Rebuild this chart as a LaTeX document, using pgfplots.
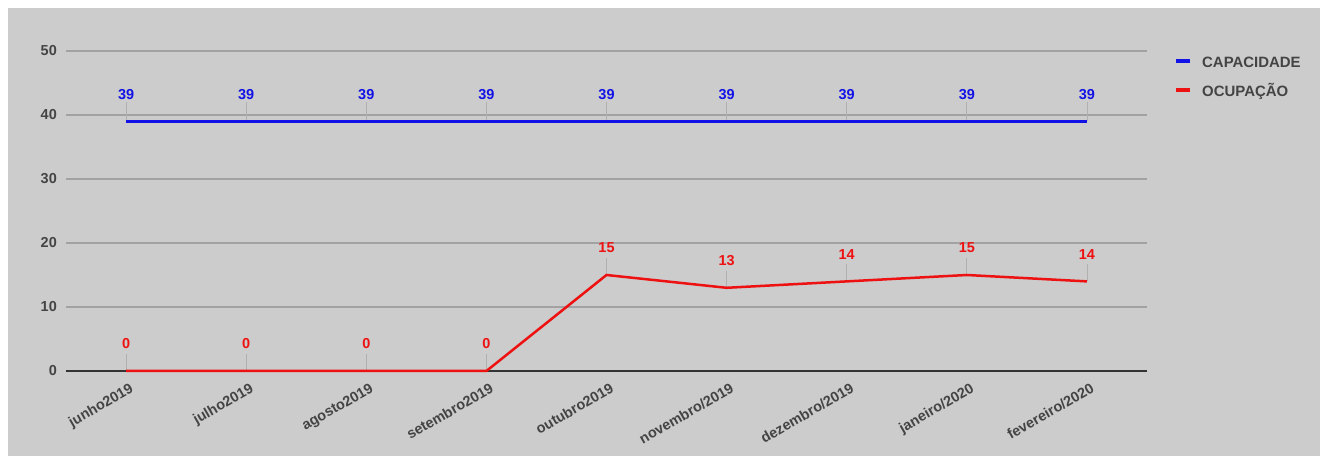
\documentclass[border=0pt]{standalone}
\usepackage{pgfplots}
\pgfplotsset{compat=1.18}
\usepackage{fontspec}
\setmainfont{Liberation Sans}
\definecolor{bgc}{HTML}{CCCCCC}
\definecolor{gridc}{HTML}{A2A2A2}
\definecolor{txtc}{HTML}{444444}
\definecolor{zeroc}{HTML}{333333}
\definecolor{leadc}{HTML}{B0B0B0}
\definecolor{capblue}{HTML}{1212E6}
\definecolor{ocred}{HTML}{EE1111}
\begin{document}
\begin{tikzpicture}[x=1bp,y=1bp]
\path[use as bounding box, fill=white] (0,0) rectangle (1320,456);
\fill[bgc] (8,0) rectangle (1320,448);
\begin{axis}[
  at={(66bp,85bp)}, anchor=south west,
  scale only axis, width=1081bp, height=320bp,
  xmin=-0.5, xmax=8.5, ymin=0, ymax=50,
  axis line style={draw=none},
  major tick length=0pt,
  xtick style={draw=none}, ytick style={draw=none},
  ytick={0,10,20,30,40,50},
  ymajorgrids, grid style={gridc, line width=1.2bp},
  xtick={0,...,8},
  xticklabels={junho2019, julho2019, agosto2019, setembro2019, outubro2019, novembro/2019, dezembro/2019, janeiro/2020, fevereiro/2020},
  tick label style={font=\fontsize{14.5}{16}\selectfont\bfseries, text=txtc},
  xticklabel style={rotate=30, anchor=north east, inner sep=0pt, xshift=-3bp, yshift=-11bp},
  yticklabel style={anchor=east, inner sep=0pt, xshift=-9bp},
  /pgf/number format/assume math mode=true,
  clip=false,
  legend style={draw=none, fill=none, at={(rel axis cs:1,1)}, anchor=north west,
    xshift=24bp, yshift=-3bp, font=\fontsize{15}{17}\selectfont\bfseries, text=txtc,
    row sep=15bp, nodes={inner sep=0pt, text height=11bp, text depth=3bp},
    /tikz/every odd column/.append style={column sep=10bp}},
  legend cell align=left,
  legend image code/.code={\draw[line width=4bp] (0bp,2.5bp) -- (14bp,2.5bp);},
]
\draw[zeroc, line width=1.5bp] (rel axis cs:0,0) -- (rel axis cs:1,0);
% leader lines
\addplot[draw=none, forget plot, error bars/.cd, y dir=plus, y fixed=3, error mark=none,
  error bar style={leadc, line width=0.8bp}]
  coordinates {(0,39)(1,39)(2,39)(3,39)(4,39)(5,39)(6,39)(7,39)(8,39)};
\addplot[draw=none, forget plot, error bars/.cd, y dir=plus, y fixed=2.7, error mark=none,
  error bar style={leadc, line width=0.8bp}]
  coordinates {(0,0)(1,0)(2,0)(3,0)(4,15)(5,13)(6,14)(7,15)(8,14)};
\addplot[capblue, line width=2.5bp, nodes near coords,
  every node near coord/.append style={font=\fontsize{14.5}{16}\selectfont\bfseries, text=capblue, anchor=base, yshift=22bp, inner sep=0pt}]
  coordinates {(0,39)(1,39)(2,39)(3,39)(4,39)(5,39)(6,39)(7,39)(8,39)};
\addlegendentry{CAPACIDADE}
\addplot[ocred, line width=2.5bp, nodes near coords,
  every node near coord/.append style={font=\fontsize{14.5}{16}\selectfont\bfseries, text=ocred, anchor=base, yshift=22bp, inner sep=0pt}]
  coordinates {(0,0)(1,0)(2,0)(3,0)(4,15)(5,13)(6,14)(7,15)(8,14)};
\addlegendentry{OCUPAÇÃO}
\end{axis}
\end{tikzpicture}
\end{document}
